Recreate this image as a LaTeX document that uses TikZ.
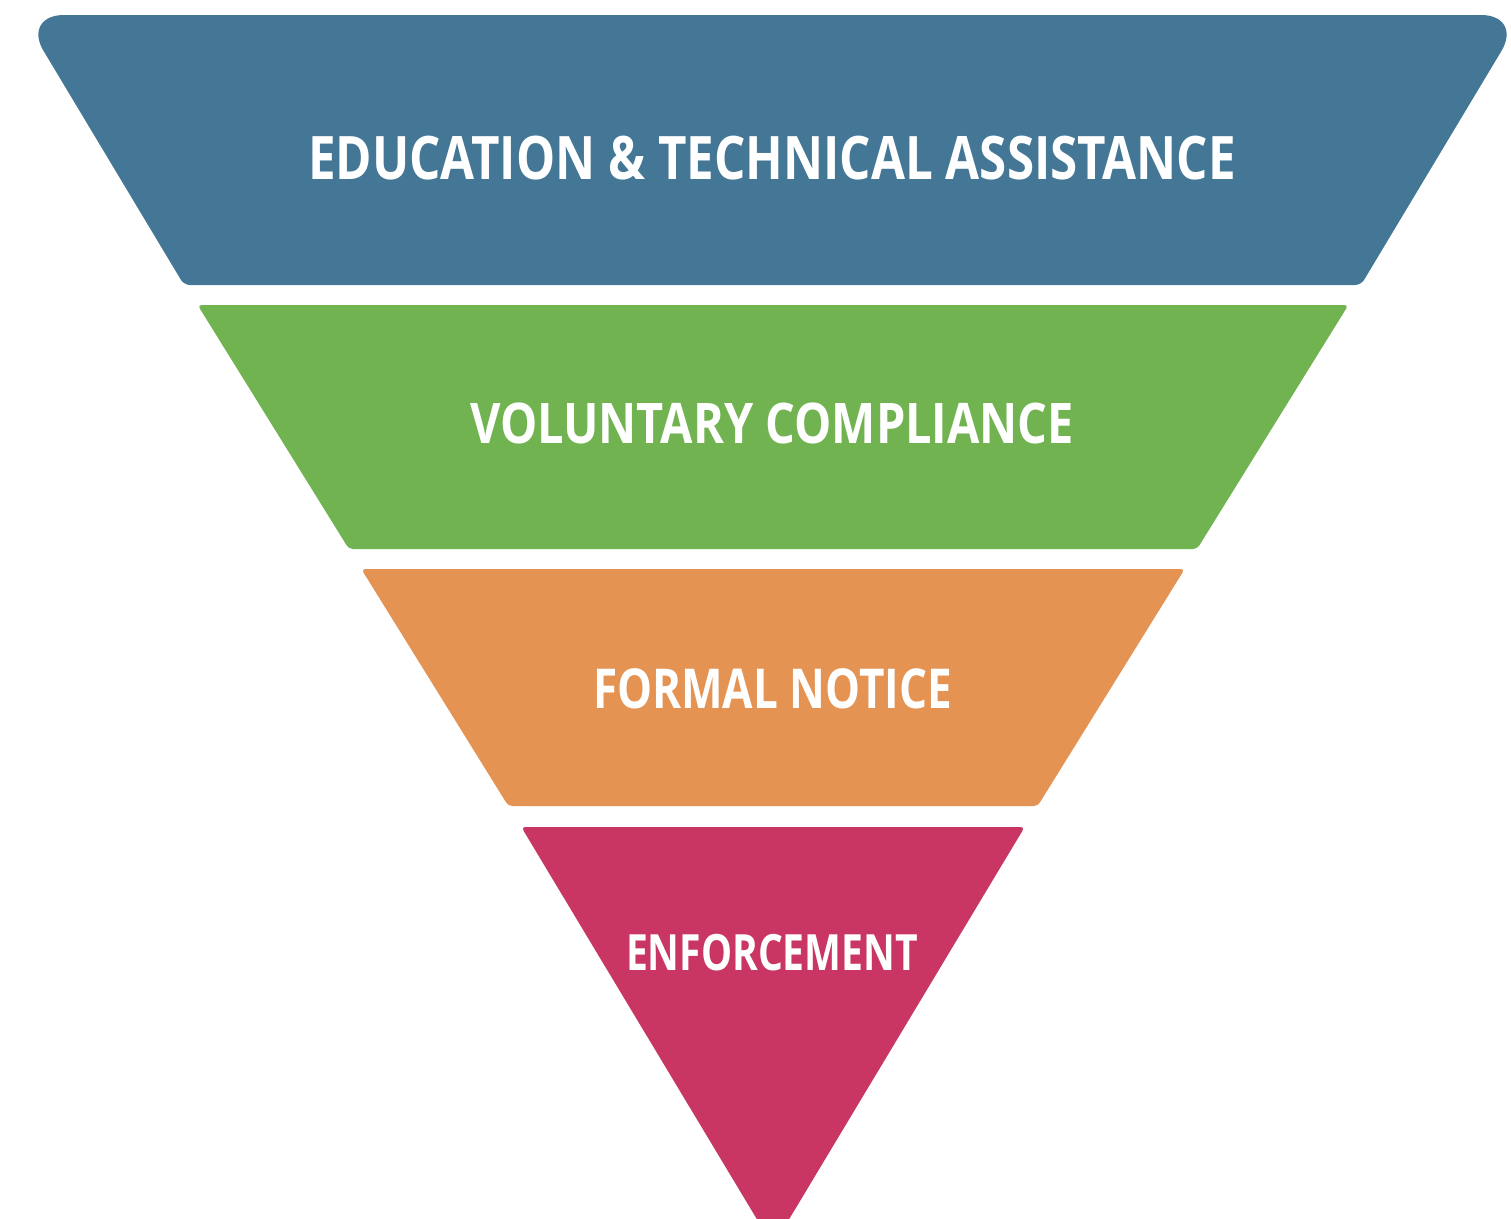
\documentclass[tikz,border=0pt]{standalone}
\usepackage{fontspec}
\setmainfont{Open Sans}
\usepackage{graphicx}
\definecolor{bandblue}{HTML}{437795}
\definecolor{bandgreen}{HTML}{71B350}
\definecolor{bandorange}{HTML}{E49353}
\definecolor{bandred}{HTML}{CA3663}
\newcommand{\bandlabel}[3]{\resizebox{#2}{\height}{\fontsize{#1}{#1}\selectfont\bfseries #3}}
\tikzset{
  lbl/.style={inner sep=0pt, outer sep=0pt, text=white, anchor=center},
}
\begin{document}
\begin{tikzpicture}[x=1pt,y=-1pt]
\useasboundingbox[fill=white] (0,0) rectangle (1511,1218);
% blue band
\fill[bandblue] (184,285) [rounded corners=42pt] -- (22,15) -- (1523,15) [rounded corners=6pt] -- (1361,285) -- cycle;
% green band
\fill[bandgreen, rounded corners=4pt] (197.6,305) -- (1348.4,305) -- (1197.1,549) -- (348.9,549) -- cycle;
% orange band
\fill[bandorange, rounded corners=4pt] (361.3,569) -- (1184.7,569) -- (1037.7,806) -- (508.3,806) -- cycle;
% red band
\fill[bandred, rounded corners=4pt] (521.3,827) -- (1024.7,827) -- (773,1246) -- cycle;
% labels
\node[lbl] (t1) at (772,158.5) {\bandlabel{60pt}{928pt}{EDUCATION \& TECHNICAL ASSISTANCE}};
\node[lbl] (t2) at (772,423) {\bandlabel{56pt}{604pt}{VOLUNTARY COMPLIANCE}};
\node[lbl] (t3) at (772.5,688.5) {\bandlabel{55pt}{359pt}{FORMAL NOTICE}};
\node[lbl] (t4) at (772,953) {\bandlabel{50pt}{292pt}{ENFORCEMENT}};
\end{tikzpicture}
\end{document}
